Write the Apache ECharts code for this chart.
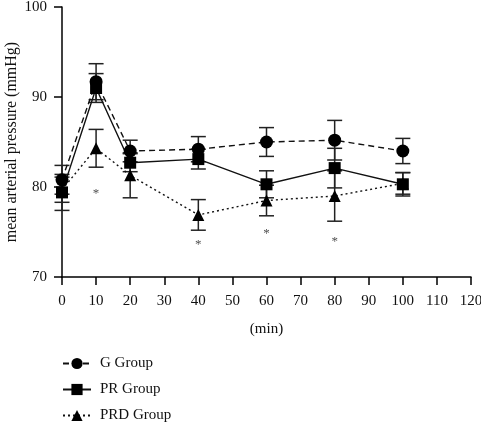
<!DOCTYPE html>
<html><head><meta charset="utf-8">
<script src="https://cdn.jsdelivr.net/npm/echarts@6/dist/echarts.min.js"></script>
<style>html,body{margin:0;padding:0;background:#fff}#c{width:481px;height:424px}</style>
</head><body><div id="c"></div>
<script>
const times = [0, 10, 20, 40, 60, 80, 100];
const gMean = [80.8, 91.7, 84.0, 84.2, 85.0, 85.2, 84.0];
const gErr  = [1.6, 2.0, 1.2, 1.4, 1.6, 2.2, 1.4];
const prMean = [79.4, 91.0, 82.7, 83.1, 80.3, 82.1, 80.3];
const prErr  = [2.0, 1.6, 1.0, 1.1, 1.5, 2.2, 1.3];
const prdMean = [79.7, 84.3, 81.3, 76.9, 78.5, 79.0, 80.4];
const prdErr  = [1.4, 2.1, 2.5, 1.7, 1.7, 2.8, 1.2];
const starX = [10, 40, 60, 80];
const starY = [79.3, 73.6, 74.8, 73.9];
const names = ['G Group', 'PR Group', 'PRD Group'];
const font = '"Liberation Serif", "DejaVu Serif", serif';

function errSeries(mean, err, id) {
  return {
    type: 'custom', name: id, silent: true, z: 3,
    data: times.map((t, i) => [t, mean[i] - err[i], mean[i] + err[i]]),
    renderItem: function (params, api) {
      const lo = api.coord([api.value(0), api.value(1)]);
      const hi = api.coord([api.value(0), api.value(2)]);
      const w = 7.5;
      const st = { stroke: '#222', lineWidth: 1.5 };
      return { type: 'group', children: [
        { type: 'line', shape: { x1: lo[0], y1: lo[1], x2: hi[0], y2: hi[1] }, style: st },
        { type: 'line', shape: { x1: lo[0] - w, y1: lo[1], x2: lo[0] + w, y2: lo[1] }, style: st },
        { type: 'line', shape: { x1: hi[0] - w, y1: hi[1], x2: hi[0] + w, y2: hi[1] }, style: st }
      ]};
    }
  };
}
function lineSeries(mean, name, symbol, size, ltype) {
  return {
    type: 'line', name: name, z: 5,
    data: times.map((t, i) => [t, mean[i]]),
    symbol: symbol, symbolSize: size, showAllSymbol: true,
    lineStyle: { color: '#111', width: 1.4, type: ltype },
    itemStyle: { color: '#000' },
    emphasis: { disabled: true }
  };
}
const chart = echarts.init(document.getElementById('c'));
chart.setOption({
  animation: false,
  backgroundColor: '#fff',
  grid: { left: 62, right: 10, top: 7, bottom: 147, containLabel: false, outerBoundsMode: 'none' },
  legend: {
    orient: 'vertical', left: 62, top: 356, height: 70, padding: 0, itemGap: 11, itemWidth: 28, itemHeight: 14,
    data: names,
    itemStyle: { color: '#000' },
    textStyle: { fontFamily: font, fontSize: 15, color: '#111', padding: [0, 0, 0, 4] }
  },
  xAxis: {
    type: 'value', min: 0, max: 120, interval: 10,
    name: '(min)', nameLocation: 'middle', nameGap: 45,
    nameTextStyle: { fontFamily: font, fontSize: 15, color: '#111' },
    axisLine: { lineStyle: { color: '#000', width: 1.5 } },
    axisTick: { length: 8, lineStyle: { color: '#000', width: 1.5 } },
    axisLabel: { fontFamily: font, fontSize: 15, color: '#111', margin: 17 },
    splitLine: { show: false }
  },
  yAxis: {
    type: 'value', min: 70, max: 100, interval: 10,
    name: 'mean arterial pressure (mmHg)', nameLocation: 'middle', nameGap: 42, nameMoveOverlap: false,
    nameTextStyle: { fontFamily: font, fontSize: 16, color: '#111' },
    axisLine: { show: true, lineStyle: { color: '#000', width: 1.5 } },
    axisTick: { show: true, length: 8, lineStyle: { color: '#000', width: 1.5 } },
    axisLabel: { fontFamily: font, fontSize: 15, color: '#111', margin: 15 },
    splitLine: { show: false }
  },
  series: [
    errSeries(gMean, gErr, 'gErr'),
    errSeries(prMean, prErr, 'prErr'),
    errSeries(prdMean, prdErr, 'prdErr'),
    lineSeries(gMean, 'G Group', 'circle', 13, [6, 4]),
    lineSeries(prMean, 'PR Group', 'rect', 12, 'solid'),
    lineSeries(prdMean, 'PRD Group', 'triangle', 12, [2, 3]),
    {
      type: 'scatter', name: 'stars', silent: true, symbolSize: 1, itemStyle: { color: 'rgba(0,0,0,0)' },
      data: starX.map((x, i) => [x, starY[i]]),
      label: { show: true, position: 'inside', formatter: '*', fontFamily: font, fontSize: 13, color: '#222' }
    }
  ]
});
</script></body></html>
